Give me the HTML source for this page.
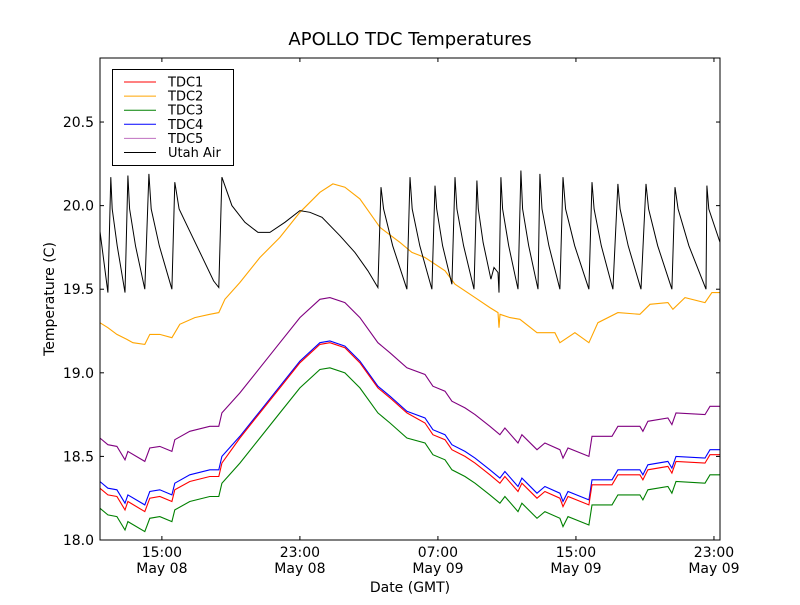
<!DOCTYPE html>
<html><head><meta charset="utf-8"><style>
body{margin:0;background:#fff;}
svg text{font-family:"DejaVu Sans","Liberation Sans",sans-serif;fill:#000;}
</style></head><body>
<svg id="chart" width="800" height="600" xmlns="http://www.w3.org/2000/svg">
<rect width="800" height="600" fill="#fff"/>
<text x="410" y="45" font-size="18" text-anchor="middle">APOLLO TDC Temperatures</text>
<text x="410" y="592" font-size="14" text-anchor="middle">Date (GMT)</text>
<text transform="translate(54,299) rotate(-90)" font-size="14" text-anchor="middle">Temperature (C)</text>
<g id="series"></g>
<g id="axes"></g>
<g id="legend"></g>
</svg>
<script>
const yTicks=[18.0,18.5,19.0,19.5,20.0,20.5];
const xTicks=[15,23,31,39,47];
const xTickTimes=["15:00","23:00","07:00","15:00","23:00"];
const xTickDates=["May 08","May 08","May 09","May 09","May 09"];
const seriesNames=["TDC1","TDC2","TDC3","TDC4","TDC5","Utah Air"];
const seriesColors=["#ff0000","#ffa500","#008000","#0000ff","#800080","#000000"];
const legendColors=["#ff0000","#ffa500","#008000","#0000ff","#bf70c0","#000000"];
// hours since May 08 00:00
const tdcHours=[11.41,11.87,12.39,12.86,13.03,14.01,14.30,14.88,15.58,15.75,16.62,17.78,18.30,18.48,19.52,20.68,21.84,23.00,24.16,24.74,25.61,26.48,27.52,28.22,29.20,30.25,30.71,31.41,31.81,32.57,33.15,34.01,34.59,34.88,35.64,35.87,36.74,37.20,38.07,38.25,38.54,39.75,39.93,41.09,41.43,42.71,42.88,43.17,44.33,44.56,44.80,46.48,46.77,47.35];
const tdc5=[18.61,18.57,18.56,18.48,18.53,18.47,18.55,18.56,18.53,18.60,18.65,18.68,18.68,18.76,18.88,19.03,19.18,19.33,19.44,19.45,19.42,19.33,19.18,19.12,19.03,18.99,18.92,18.89,18.83,18.79,18.75,18.68,18.63,18.67,18.58,18.63,18.54,18.58,18.54,18.49,18.55,18.50,18.62,18.62,18.68,18.68,18.65,18.71,18.73,18.69,18.76,18.75,18.80,18.80];
const tdc1=[18.31,18.27,18.26,18.18,18.23,18.17,18.25,18.26,18.23,18.30,18.35,18.38,18.38,18.46,18.61,18.76,18.91,19.06,19.17,19.18,19.15,19.06,18.91,18.85,18.76,18.70,18.63,18.60,18.54,18.50,18.46,18.39,18.34,18.38,18.29,18.34,18.25,18.29,18.25,18.20,18.26,18.21,18.33,18.33,18.39,18.39,18.36,18.42,18.44,18.40,18.47,18.46,18.51,18.51];
const tdc4=[18.35,18.31,18.30,18.22,18.27,18.21,18.29,18.30,18.27,18.34,18.39,18.42,18.42,18.50,18.62,18.77,18.92,19.07,19.18,19.19,19.16,19.07,18.92,18.86,18.77,18.73,18.66,18.63,18.57,18.53,18.49,18.42,18.37,18.41,18.32,18.37,18.28,18.32,18.28,18.23,18.29,18.24,18.36,18.36,18.42,18.42,18.39,18.45,18.47,18.43,18.50,18.49,18.54,18.54];
const tdc3=[18.19,18.15,18.14,18.06,18.11,18.05,18.13,18.14,18.11,18.18,18.23,18.26,18.26,18.34,18.46,18.61,18.76,18.91,19.02,19.03,19.00,18.91,18.76,18.70,18.61,18.58,18.51,18.48,18.42,18.38,18.34,18.27,18.22,18.26,18.17,18.22,18.13,18.17,18.13,18.08,18.14,18.09,18.21,18.21,18.27,18.27,18.24,18.30,18.32,18.28,18.35,18.34,18.39,18.39];
const tdc2Hours=[11.41,11.87,12.39,12.97,13.32,14.01,14.30,14.88,15.58,16.04,16.91,17.78,18.30,18.65,19.52,20.68,21.84,23.00,24.16,24.91,25.61,26.48,27.64,28.80,29.49,30.25,31.41,31.99,33.15,34.01,34.48,34.54,34.60,35.17,35.75,36.74,37.78,38.07,38.94,39.75,40.27,41.43,42.71,43.29,44.33,44.62,45.32,46.48,46.88,47.35];
const tdc2=[19.30,19.27,19.23,19.20,19.18,19.17,19.23,19.23,19.21,19.29,19.33,19.35,19.36,19.44,19.54,19.69,19.81,19.96,20.08,20.13,20.11,20.04,19.87,19.78,19.72,19.69,19.61,19.53,19.45,19.39,19.36,19.27,19.35,19.33,19.32,19.24,19.24,19.18,19.24,19.18,19.30,19.36,19.35,19.41,19.42,19.38,19.45,19.42,19.48,19.48];
const airHours=[11.41,11.87,12.04,12.12,12.41,12.86,13.03,13.13,13.47,14.01,14.25,14.38,14.85,15.58,15.75,16.0,16.6,17.3,18.0,18.30,18.48,19.06,19.81,20.57,21.26,22.13,23.0,23.58,24.28,25.32,26.19,26.94,27.52,27.70,27.85,28.38,29.20,29.38,29.51,29.95,30.65,30.83,30.93,31.27,31.81,31.99,32.10,32.49,33.09,33.26,33.34,33.62,34.07,34.25,34.48,34.54,34.65,34.75,35.10,35.64,35.81,35.91,36.26,36.80,36.91,37.03,37.43,38.07,38.25,38.40,38.93,39.75,39.93,40.05,40.47,41.14,41.43,41.56,42.03,42.77,43.06,43.21,43.74,44.56,44.74,44.92,45.55,46.54,46.59,46.70,47.35];
const airTemps=[19.85,19.48,20.17,19.98,19.76,19.48,20.18,19.98,19.76,19.50,20.19,19.98,19.76,19.50,20.14,19.98,19.85,19.70,19.55,19.51,20.17,20.00,19.90,19.84,19.84,19.90,19.97,19.96,19.93,19.82,19.72,19.61,19.51,20.11,19.98,19.76,19.50,20.17,19.98,19.76,19.50,20.12,19.98,19.76,19.53,20.17,19.98,19.76,19.50,20.15,19.98,19.78,19.56,19.63,19.60,19.48,20.17,19.98,19.76,19.50,20.21,19.98,19.76,19.50,20.19,19.98,19.76,19.50,20.17,19.98,19.76,19.50,20.14,19.98,19.76,19.50,20.13,19.98,19.76,19.50,20.13,19.98,19.76,19.50,20.11,19.98,19.76,19.50,20.12,19.98,19.78];

const L=100,R=720,T=58,B=540;
const xMin=11.413,xMax=47.35,yMin=18.0,yMax=20.883;
function xs(h){return L+(h-xMin)/(xMax-xMin)*(R-L);}
function ys(v){return B-(v-yMin)/(yMax-yMin)*(B-T);}
const NS="http://www.w3.org/2000/svg";
function mk(tag,parent){const e=document.createElementNS(NS,tag);parent.appendChild(e);return e;}
const sg=document.getElementById('series');
const cp=mk('clipPath',sg);cp.setAttribute('id','clip');
const cr=mk('rect',cp);cr.setAttribute('x',L);cr.setAttribute('y',T);cr.setAttribute('width',R-L);cr.setAttribute('height',B-T);
const allX=[tdcHours,tdc2Hours,tdcHours,tdcHours,tdcHours,airHours];
const allY=[tdc1,tdc2,tdc3,tdc4,tdc5,airTemps];
const order=[4,1,3,0,2,5];
const lineNames=['tdc1-line','tdc2-line','tdc3-line','tdc4-line','tdc5-line','utah-air-line'];
order.forEach(i=>{
  const p=mk('path',sg);
  
  
  p.setAttribute('d',allX[i].map((h,j)=>(j?'L':'M')+xs(h).toFixed(1)+','+ys(allY[i][j]).toFixed(1)).join(''));
  p.setAttribute('fill','none');p.setAttribute('stroke',seriesColors[i]);p.setAttribute('stroke-width',i===5?1:1.1);
  p.setAttribute('clip-path','url(#clip)');
});
const ag=document.getElementById('axes');
const fr=mk('rect',ag);


fr.setAttribute('x',L);fr.setAttribute('y',T);fr.setAttribute('width',R-L);fr.setAttribute('height',B-T);fr.setAttribute('fill','none');fr.setAttribute('stroke','#000');
yTicks.forEach(v=>{
  const y=ys(v);
  [[L,L+4],[R,R-4]].forEach(([a,b])=>{const t=mk('line',ag);t.setAttribute('x1',a);t.setAttribute('x2',b);t.setAttribute('y1',y);t.setAttribute('y2',y);t.setAttribute('stroke','#000');});
  const tx=mk('text',ag);
  
  
  tx.setAttribute('x',L-6);tx.setAttribute('y',y+5);tx.setAttribute('font-size','14');tx.setAttribute('text-anchor','end');tx.textContent=v.toFixed(1);
});
xTicks.forEach((h,i)=>{
  const x=xs(h);
  [[B,B-4],[T,T+4]].forEach(([a,b])=>{const t=mk('line',ag);t.setAttribute('x1',x);t.setAttribute('x2',x);t.setAttribute('y1',a);t.setAttribute('y2',b);t.setAttribute('stroke','#000');});
  const t1=mk('text',ag);
  
  
  t1.setAttribute('x',x);t1.setAttribute('y',B+17);t1.setAttribute('font-size','14');t1.setAttribute('text-anchor','middle');t1.textContent=xTickTimes[i];
  const t2=mk('text',ag);
  
  
  t2.setAttribute('x',x);t2.setAttribute('y',B+33);t2.setAttribute('font-size','14');t2.setAttribute('text-anchor','middle');t2.textContent=xTickDates[i];
});
const lg=document.getElementById('legend');


const lb=mk('rect',lg);lb.setAttribute('x',112.5);lb.setAttribute('y',69.5);lb.setAttribute('width',121);lb.setAttribute('height',96);lb.setAttribute('fill','#fff');lb.setAttribute('stroke','#000');
seriesNames.forEach((n,i)=>{
  const y=82+i*14.1;
  const ln=mk('line',lg);
  
  
  ln.setAttribute('x1',124);ln.setAttribute('x2',156);ln.setAttribute('y1',y);ln.setAttribute('y2',y);ln.setAttribute('stroke',legendColors[i]);
  const tx=mk('text',lg);
  
  
  tx.setAttribute('x',168);tx.setAttribute('y',y+4.5);tx.setAttribute('font-size','13');tx.textContent=n;
});
</script>
</body></html>
